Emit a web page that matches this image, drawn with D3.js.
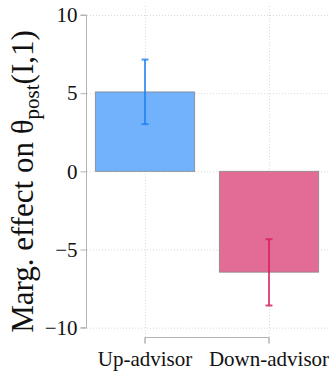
<!DOCTYPE html>
<html>
<head>
<meta charset="utf-8">
<script src="https://cdn.jsdelivr.net/npm/d3@7"></script>
<style>
  html, body { margin: 0; padding: 0; background: #fff; }
  svg { display: block; font-family: "Liberation Serif", "Times New Roman", serif; }
</style>
</head>
<body>
<svg id="chart" width="333" height="371"></svg>
<script>
// Marginal effects with confidence intervals, by advisor type
const categories = ["Up-advisor", "Down-advisor"];
const effects = [5.08, -6.45];
const ciLow = [3.02, -8.58];
const ciHigh = [7.15, -4.34];
const yTicks = [-10, -5, 0, 5, 10];
const barColors = ["#6aaefc", "#e0648f"];
const errColors = ["#1c7ff0", "#d81b60"];

const svg = d3.select("#chart");

const y = d3.scaleLinear().domain([-10, 10]).range([327.7, 15]);
const x = d3.scaleBand().domain(categories).range([83, 331])
  .paddingInner(0.2).paddingOuter(0.1);

// dotted grid
const grid = svg.append("g").attr("stroke", "#d9d9d9").attr("stroke-width", 1)
  .attr("stroke-dasharray", "1,2");
grid.selectAll("line.h").data(yTicks).join("line").attr("class", "h")
  .attr("x1", 87).attr("x2", 329)
  .attr("y1", d => y(d) + 0.5).attr("y2", d => y(d) + 0.5);
grid.selectAll("line.v").data(categories).join("line").attr("class", "v")
  .attr("x1", d => Math.round(x(d) + x.bandwidth() / 2) + 0.5)
  .attr("x2", d => Math.round(x(d) + x.bandwidth() / 2) + 0.5)
  .attr("y1", 6).attr("y2", 337);

// bars
svg.append("g").selectAll("rect").data(categories).join("rect")
  .attr("x", d => x(d))
  .attr("width", x.bandwidth())
  .attr("y", (d, i) => y(Math.max(0, effects[i])))
  .attr("height", (d, i) => Math.abs(y(effects[i]) - y(0)))
  .attr("fill", (d, i) => barColors[i])
  .attr("fill-opacity", 0.95)
  .attr("stroke", "#808080")
  .attr("stroke-opacity", 0.75)
  .attr("stroke-width", 1);

// error bars
const eb = svg.append("g").attr("stroke-width", 2);
categories.forEach((c, i) => {
  const cx = x(c) + x.bandwidth() / 2;
  const g = eb.append("g").attr("stroke", errColors[i]).attr("stroke-opacity", 0.78);
  g.append("line").attr("x1", cx).attr("x2", cx).attr("y1", y(ciHigh[i])).attr("y2", y(ciLow[i]));
  g.append("line").attr("x1", cx - 3.5).attr("x2", cx + 3.5).attr("y1", y(ciHigh[i])).attr("y2", y(ciHigh[i]));
  g.append("line").attr("x1", cx - 3.5).attr("x2", cx + 3.5).attr("y1", y(ciLow[i])).attr("y2", y(ciLow[i]));
});

// y axis
const yAxis = svg.append("g").attr("transform", "translate(86.5,0)")
  .call(d3.axisLeft(y).tickValues(yTicks).tickSize(6).tickPadding(3).tickFormat(d3.format("d")));
yAxis.select(".domain").attr("stroke", "#b3b3b3").attr("d", `M-6,${y(10)}H0V${y(-10)}H-6`);
yAxis.selectAll(".tick line").attr("stroke", "#b3b3b3");
yAxis.selectAll(".tick text").attr("font-size", 21).attr("fill", "#111")
  .attr("font-family", "Liberation Serif");

// x axis (bracket spanning the category ticks)
const xAxis = svg.append("g").attr("transform", "translate(0,337.5)")
  .call(d3.axisBottom(x).tickSize(6).tickPadding(8));
const c0 = x(categories[0]) + x.bandwidth() / 2;
const c1 = x(categories[1]) + x.bandwidth() / 2;
xAxis.select(".domain").attr("stroke", "#b3b3b3").attr("d", `M${c0},6V0H${c1}V6`);
xAxis.selectAll(".tick line").attr("stroke", "#b3b3b3");
xAxis.selectAll(".tick text").attr("font-size", 21).attr("fill", "#111")
  .attr("font-family", "Liberation Serif");

// y axis title with subscript
const title = svg.append("text")
  .attr("transform", "translate(33,181.5) rotate(-90)")
  .attr("text-anchor", "middle")
  .attr("font-size", 31)
  .attr("fill", "#111");
title.append("tspan").text("Marg. effect on θ");
title.append("tspan").attr("font-size", 21).attr("dy", 6).text("post");
title.append("tspan").attr("dy", -6).text("(I,1)");
</script>
</body>
</html>
